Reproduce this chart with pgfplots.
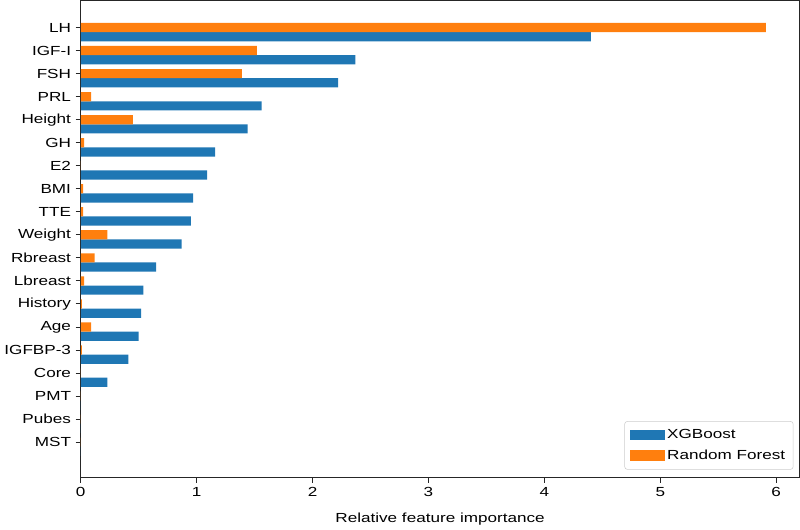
\documentclass[border=0pt]{standalone}
\usepackage{pgfplots}
\pgfplotsset{compat=1.18}
\usepackage{fontspec}
\setmainfont{Liberation Sans}[FakeStretch=1.3]
\definecolor{mblue}{HTML}{1F77B4}
\definecolor{morange}{HTML}{FF7F0E}
\begin{document}
\begin{tikzpicture}
\begin{axis}[
  scale only axis, width=540.4pt, height=358.7pt,
  xbar, bar width=0.4,
  xmin=0, xmax=6.2,
  ymin=-1.17, ymax=19.54, y dir=reverse,
  ytick={0,...,18},
  yticklabels={LH,IGF-I,FSH,PRL,Height,GH,E2,BMI,TTE,Weight,Rbreast,Lbreast,History,Age,IGFBP-3,Core,PMT,Pubes,MST},
  xtick={0,...,6},
  tick align=outside, tick pos=left,
  major tick length=3.8pt,
  tick style={black!85, line width=0.7pt},
  axis line style={black!85, line width=0.9pt},
  xlabel={Relative feature importance},
  xlabel style={yshift=-5pt},
  font=\fontsize{9.9}{11}\selectfont,
  tick label style={font=\fontsize{9.9}{11}\selectfont},
  label style={font=\fontsize{9.9}{11}\selectfont},
  /pgf/number format/assume math mode=true,
  legend cell align=left,
  legend image code/.code={\fill[#1, sharp corners] (0pt,-4pt) rectangle (26pt,4pt);},
  legend style={at={(0.9917,0.0167)}, anchor=south east, draw=black!20, rounded corners=2pt, fill=white, inner xsep=4pt, inner ysep=4pt, row sep=3pt, font=\fontsize{9.9}{11}\selectfont},
]
\addplot[fill=mblue, draw=none, bar shift=0.4] coordinates {
(4.40,0) (2.37,1) (2.22,2) (1.56,3) (1.44,4) (1.16,5) (1.09,6) (0.97,7) (0.95,8) (0.87,9) (0.65,10) (0.54,11) (0.52,12) (0.50,13) (0.41,14) (0.23,15) (0,16) (0,17) (0,18)};
\addlegendentry{XGBoost}
\addplot[fill=morange, draw=none, bar shift=0] coordinates {
(5.91,0) (1.52,1) (1.39,2) (0.09,3) (0.45,4) (0.03,5) (0,6) (0.02,7) (0.02,8) (0.23,9) (0.12,10) (0.03,11) (0.01,12) (0.09,13) (0.01,14) (0,15) (0,16) (0,17) (0,18)};
\addlegendentry{Random Forest}
\end{axis}
\end{tikzpicture}
\end{document}
